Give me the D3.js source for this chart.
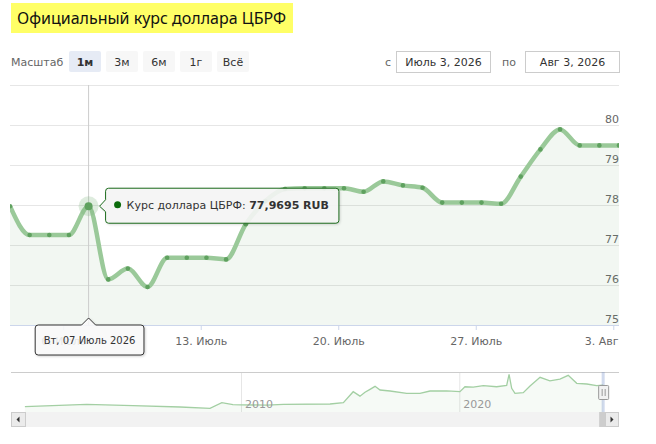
<!DOCTYPE html>
<html>
<head>
<meta charset="utf-8">
<script src="https://cdn.jsdelivr.net/npm/d3@7"></script>
<style>
  body { margin: 0; background: #fff; }
  svg { display: block; font-family: "DejaVu Sans", Verdana, sans-serif; }
</style>
</head>
<body>
<div id="wrapper"></div>
<script>
// daily USD/RUB rate, July 3 - Aug 3 2026
const dates = [
    "2026-07-03", "2026-07-04", "2026-07-05", "2026-07-06", "2026-07-07", "2026-07-08",
    "2026-07-09", "2026-07-10", "2026-07-11", "2026-07-12", "2026-07-13", "2026-07-14",
    "2026-07-15", "2026-07-16", "2026-07-17", "2026-07-18", "2026-07-19", "2026-07-20",
    "2026-07-21", "2026-07-22", "2026-07-23", "2026-07-24", "2026-07-25", "2026-07-26",
    "2026-07-27", "2026-07-28", "2026-07-29", "2026-07-30", "2026-07-31", "2026-08-01",
    "2026-08-02", "2026-08-03"
];
const rates = [
    77.97, 77.25, 77.25, 77.25, 77.9695, 76.14,
    76.41, 75.95, 76.68, 76.68, 76.68, 76.64,
    77.52, 78.10, 78.40, 78.42, 78.42, 78.42,
    78.33, 78.59, 78.49, 78.43, 78.06, 78.06,
    78.06, 78.03, 78.71, 79.39, 79.89, 79.49,
    79.49, 79.49
];
const publishHour = 7; // rate timestamps are not at midnight

const tickDates = ["2026-07-06", "2026-07-13", "2026-07-20", "2026-07-27", "2026-08-03"];
const tickLabels = ["6. Июль", "13. Июль", "20. Июль", "27. Июль", "3. Авг"];
const yTicks = [75, 76, 77, 78, 79, 80, 81];

const hoverIndex = 4;
const hoverLabel = "Вт, 07 Июль 2026";
const seriesName = "Курс доллара ЦБРФ";

// navigator: whole history (year, rate)
const navYears = [2000.1, 2002.93, 2005.05, 2007.21, 2008.58, 2009.12, 2009.63, 2010.0, 2011.18,
    2011.94, 2014.08, 2014.69, 2015.14, 2015.45, 2015.68, 2015.91, 2016.14, 2016.37, 2016.83,
    2017.59, 2018.2, 2018.66, 2019.42, 2020.03, 2020.26, 2020.64, 2021.1, 2021.71, 2022.17,
    2022.28, 2022.4, 2022.55, 2022.93, 2023.24, 2023.7, 2024.15, 2024.61, 2024.99, 2025.38,
    2025.84, 2026.29, 2026.59];
const navRates = [25.9, 31.8, 28.4, 25.2, 22.0, 35.8, 30.9, 30.4, 30.0,
    31.5, 32.6, 35.8, 63.0, 52.0, 61.5, 68.9, 76.3, 67.2, 64.7,
    59.0, 58.8, 64.7, 65.0, 63.0, 75.3, 74.5, 77.8, 75.3, 78.8,
    105.9, 71.3, 59.0, 60.5, 77.0, 98.5, 90.0, 94.3, 103.4, 83.7,
    82.0, 77.8, 79.5];
const navTicks = [2010, 2020];

const rangeButtons = ["1м", "3м", "6м", "1г", "Всё"];
const fromLabel = "Июль 3, 2026";
const toLabel = "Авг 3, 2026";

const W = 656, H = 444;
const plot = { left: 10, right: 619, top: 85, bottom: 325 };
const nav = { top: 372, bottom: 412 };

const parse = d3.utcParse("%Y-%m-%d");
const data = dates.map((d, i) => ({ t: d3.utcHour.offset(parse(d), publishHour), v: rates[i] }));

const svg = d3.select("#wrapper").append("svg").attr("width", W).attr("height", H);

// title
svg.append("rect").attr("x", 11).attr("y", 3).attr("width", 282).attr("height", 30).attr("fill", "#ffff66");
svg.append("text").attr("x", 17).attr("y", 24).attr("font-size", 16).attr("fill", "#111")
    .attr("font-family", "'Noto Sans', 'Open Sans', sans-serif")
    .text("Официальный курс доллара ЦБРФ");

// range selector
svg.append("text").attr("x", 11).attr("y", 66).attr("font-size", 11).attr("fill", "#666").text("Масштаб");
const btnX = [69, 106, 143, 180, 217];
rangeButtons.forEach((b, i) => {
    svg.append("rect").attr("x", btnX[i]).attr("y", 51).attr("width", 32).attr("height", 21).attr("rx", 2)
        .attr("fill", i === 0 ? "#e6ebf5" : "#f7f7f7");
    svg.append("text").attr("x", btnX[i] + 16).attr("y", 66).attr("text-anchor", "middle")
        .attr("font-size", 11).attr("font-weight", i === 0 ? "bold" : "normal").attr("fill", "#333").text(b);
});

// date inputs
svg.append("text").attr("x", 385).attr("y", 66).attr("font-size", 11).attr("fill", "#666").text("с");
svg.append("rect").attr("x", 396.5).attr("y", 51.5).attr("width", 94).attr("height", 21).attr("fill", "#fff").attr("stroke", "#ccc");
svg.append("text").attr("x", 443.5).attr("y", 66).attr("text-anchor", "middle").attr("font-size", 11).attr("fill", "#333").text(fromLabel);
svg.append("text").attr("x", 502).attr("y", 66).attr("font-size", 11).attr("fill", "#666").text("по");
svg.append("rect").attr("x", 525.5).attr("y", 51.5).attr("width", 94).attr("height", 21).attr("fill", "#fff").attr("stroke", "#ccc");
svg.append("text").attr("x", 572.5).attr("y", 66).attr("text-anchor", "middle").attr("font-size", 11).attr("fill", "#333").text(toLabel);

// scales
const x = d3.scaleUtc()
    .domain([data[0].t, data[data.length - 1].t])
    .range([plot.left, plot.right]);
const y = d3.scaleLinear().domain([75, 81]).range([plot.bottom, plot.top]);

// grid + y labels
const yAxis = svg.append("g")
    .attr("transform", `translate(${plot.left},0)`)
    .call(d3.axisRight(y).tickValues(yTicks).tickSize(plot.right - plot.left).tickFormat(d => d === 81 ? "" : d));
yAxis.attr("font-family", null);
yAxis.select(".domain").remove();
yAxis.selectAll("line").attr("stroke", "#e6e6e6");
yAxis.selectAll(".tick text").attr("x", plot.right - plot.left).attr("y", -3).attr("dy", null)
    .attr("text-anchor", "end").attr("font-size", 11).attr("fill", "#666");

// area + line
svg.append("defs").append("clipPath").attr("id", "clip")
    .append("rect").attr("x", plot.left).attr("y", plot.top).attr("width", plot.right - plot.left).attr("height", plot.bottom - plot.top + 3);

const area = d3.area().x(d => x(d.t)).y0(y(75)).y1(d => y(d.v)).curve(d3.curveMonotoneX);
const line = d3.line().x(d => x(d.t)).y(d => y(d.v)).curve(d3.curveMonotoneX);

const g = svg.append("g").attr("clip-path", "url(#clip)");
g.append("path").datum(data).attr("d", area).attr("fill", "rgba(124,181,124,0.1)");

// crosshair
const hp = data[hoverIndex];
const hx = x(hp.t), hy = y(hp.v);
svg.append("line").attr("x1", hx).attr("x2", hx).attr("y1", plot.top).attr("y2", plot.bottom)
    .attr("stroke", "#cccccc").attr("stroke-width", 1);

g.append("path").datum(data).attr("d", line).attr("fill", "none")
    .attr("stroke", "#9ac999").attr("stroke-width", 4.5).attr("stroke-linejoin", "round");
g.selectAll("circle.pt").data(data).enter().append("circle").attr("class", "pt")
    .attr("cx", d => x(d.t)).attr("cy", d => y(d.v)).attr("r", 2.3).attr("fill", "#5fa15f");

// x axis
const xAxis = svg.append("g")
    .attr("transform", `translate(0,${plot.bottom})`)
    .call(d3.axisBottom(x).tickValues(tickDates.map(parse)).tickSize(5).tickFormat((d, i) => tickLabels[i]));
xAxis.attr("font-family", null);
xAxis.select(".domain").attr("stroke", "#ccd6eb").attr("d", `M${plot.left},0.5H${plot.right}`);
xAxis.selectAll("line").attr("stroke", "#ccd6eb");
xAxis.selectAll("text").attr("font-size", 11).attr("fill", "#666").attr("y", 16).attr("dy", "0.32em");
// last label kept inside the plot
const lastTick = parse(tickDates[tickDates.length - 1]);
xAxis.selectAll(".tick text").filter(d => +d === +lastTick)
    .attr("text-anchor", "end").attr("x", plot.right - x(lastTick) - 1);

// hovered point
svg.append("circle").attr("cx", hx).attr("cy", hy).attr("r", 10).attr("fill", "rgba(124,181,124,0.25)");
svg.append("circle").attr("cx", hx).attr("cy", hy).attr("r", 4).attr("fill", "#5fa15f");

// tooltip
const tip = svg.append("g");
const tipText = tip.append("text").attr("font-size", 11).attr("fill", "#333");
tipText.append("tspan").text(seriesName + ": ");
tipText.append("tspan").attr("font-weight", "bold").text(d3.format(".4f")(hp.v).replace(".", ",") + " RUB");
const tw = tipText.node().getComputedTextLength();
const bx = hx + 17, by = hy - 18, bw = tw + 31, bh = 35;
tip.insert("path", "text")
    .attr("d", `M${bx + 3},${by} H${bx + bw - 3} Q${bx + bw},${by} ${bx + bw},${by + 3} V${by + bh - 3} Q${bx + bw},${by + bh} ${bx + bw - 3},${by + bh}
        H${bx + 3} Q${bx},${by + bh} ${bx},${by + bh - 3} V${hy + 5.5} L${hx + 11},${hy} L${bx},${hy - 6.5} V${by + 3} Q${bx},${by} ${bx + 3},${by} Z`)
    .attr("fill", "rgba(247,247,247,0.9)").attr("stroke", "#1a6a1a").attr("stroke-width", 1)
    .style("filter", "drop-shadow(1px 1px 1px rgba(0,0,0,0.15))");
tip.insert("circle", "text").attr("cx", bx + 12).attr("cy", hy - 1.5).attr("r", 3.5).attr("fill", "#0b6b0b");
tipText.attr("x", bx + 21).attr("y", hy + 2.5);

// x label box under crosshair
const lab = svg.append("g");
const labText = lab.append("text").attr("font-size", 10).attr("fill", "#333").attr("text-anchor", "middle")
    .attr("x", hx + 1).attr("y", plot.bottom + 19).text(hoverLabel);
const lw = labText.node().getComputedTextLength() + 17;
const lx = hx + 1 - lw / 2, ly = plot.bottom, lh = 30;
lab.insert("path", "text")
    .attr("d", `M${lx + 3},${ly} H${hx - 7} L${hx},${ly - 7} L${hx + 7},${ly} H${lx + lw - 3} Q${lx + lw},${ly} ${lx + lw},${ly + 3}
        V${ly + lh - 3} Q${lx + lw},${ly + lh} ${lx + lw - 3},${ly + lh} H${lx + 3} Q${lx},${ly + lh} ${lx},${ly + lh - 3} V${ly + 3} Q${lx},${ly} ${lx + 3},${ly} Z`)
    .attr("fill", "rgba(255,255,255,0.85)").attr("stroke", "#333").attr("stroke-width", 1)
    .style("filter", "drop-shadow(1px 1px 1px rgba(0,0,0,0.2))");

// navigator
const nx = d3.scaleLinear().domain([2010, 2020]).range([241, 459.3]);
const ny = d3.scaleLinear().domain([20, 108]).range([409.1, 373.5]);
const navData = navYears.map((yr, i) => ({ yr: yr, v: navRates[i] }));

svg.append("g").selectAll("line").data(navTicks).enter().append("line")
    .attr("x1", d => nx(d) + 0.5).attr("x2", d => nx(d) + 0.5).attr("y1", nav.top).attr("y2", nav.bottom)
    .attr("stroke", "#e6e6e6");
svg.append("path").datum(navData)
    .attr("d", d3.area().x(d => nx(d.yr)).y0(nav.bottom).y1(d => ny(d.v)))
    .attr("fill", "rgba(124,181,124,0.07)");
svg.append("path").datum(navData)
    .attr("d", d3.line().x(d => nx(d.yr)).y(d => ny(d.v)))
    .attr("fill", "none").attr("stroke", "#a3cfa3").attr("stroke-width", 1.3);
svg.append("g").selectAll("text").data(navTicks).enter().append("text")
    .attr("x", d => nx(d) + 4).attr("y", 408).attr("font-size", 11).attr("fill", "#999").text(d => d);
svg.append("line").attr("x1", plot.left + 1).attr("x2", plot.right).attr("y1", nav.top + 0.5).attr("y2", nav.top + 0.5)
    .attr("stroke", "#cccccc");

// scrollbar
svg.append("rect").attr("x", 11).attr("y", nav.bottom).attr("width", plot.right - 11).attr("height", 15).attr("fill", "#f2f2f2");
const selX = nx(navYears[navYears.length - 1]);
svg.append("rect").attr("x", selX - 4).attr("y", nav.bottom).attr("width", 8).attr("height", 15).attr("fill", "#cdcdcd");
svg.append("rect").attr("x", 11.5).attr("y", nav.bottom + 0.5).attr("width", 14).attr("height", 14).attr("fill", "#ebebeb").attr("stroke", "#cccccc");
svg.append("path").attr("d", `M16.5,${nav.bottom + 7.5} l3,-3 v6 z`).attr("fill", "#333");
svg.append("rect").attr("x", 605.5).attr("y", nav.bottom + 0.5).attr("width", 13).attr("height", 14).attr("fill", "#ebebeb").attr("stroke", "#cccccc");
svg.append("path").attr("d", `M613.5,${nav.bottom + 7.5} l-3,-3 v6 z`).attr("fill", "#333");

// selected range + handle
svg.append("rect").attr("x", selX - 1.5).attr("y", nav.top).attr("width", 3).attr("height", nav.bottom - nav.top)
    .attr("fill", "rgba(102,133,194,0.3)");
svg.append("rect").attr("x", selX - 4.5).attr("y", 385.5).attr("width", 10).attr("height", 14).attr("rx", 1)
    .attr("fill", "#f2f2f2").attr("stroke", "#999");
svg.append("line").attr("x1", selX - 1).attr("x2", selX - 1).attr("y1", 389).attr("y2", 396).attr("stroke", "#999");
svg.append("line").attr("x1", selX + 2).attr("x2", selX + 2).attr("y1", 389).attr("y2", 396).attr("stroke", "#999");
</script>
</body>
</html>
